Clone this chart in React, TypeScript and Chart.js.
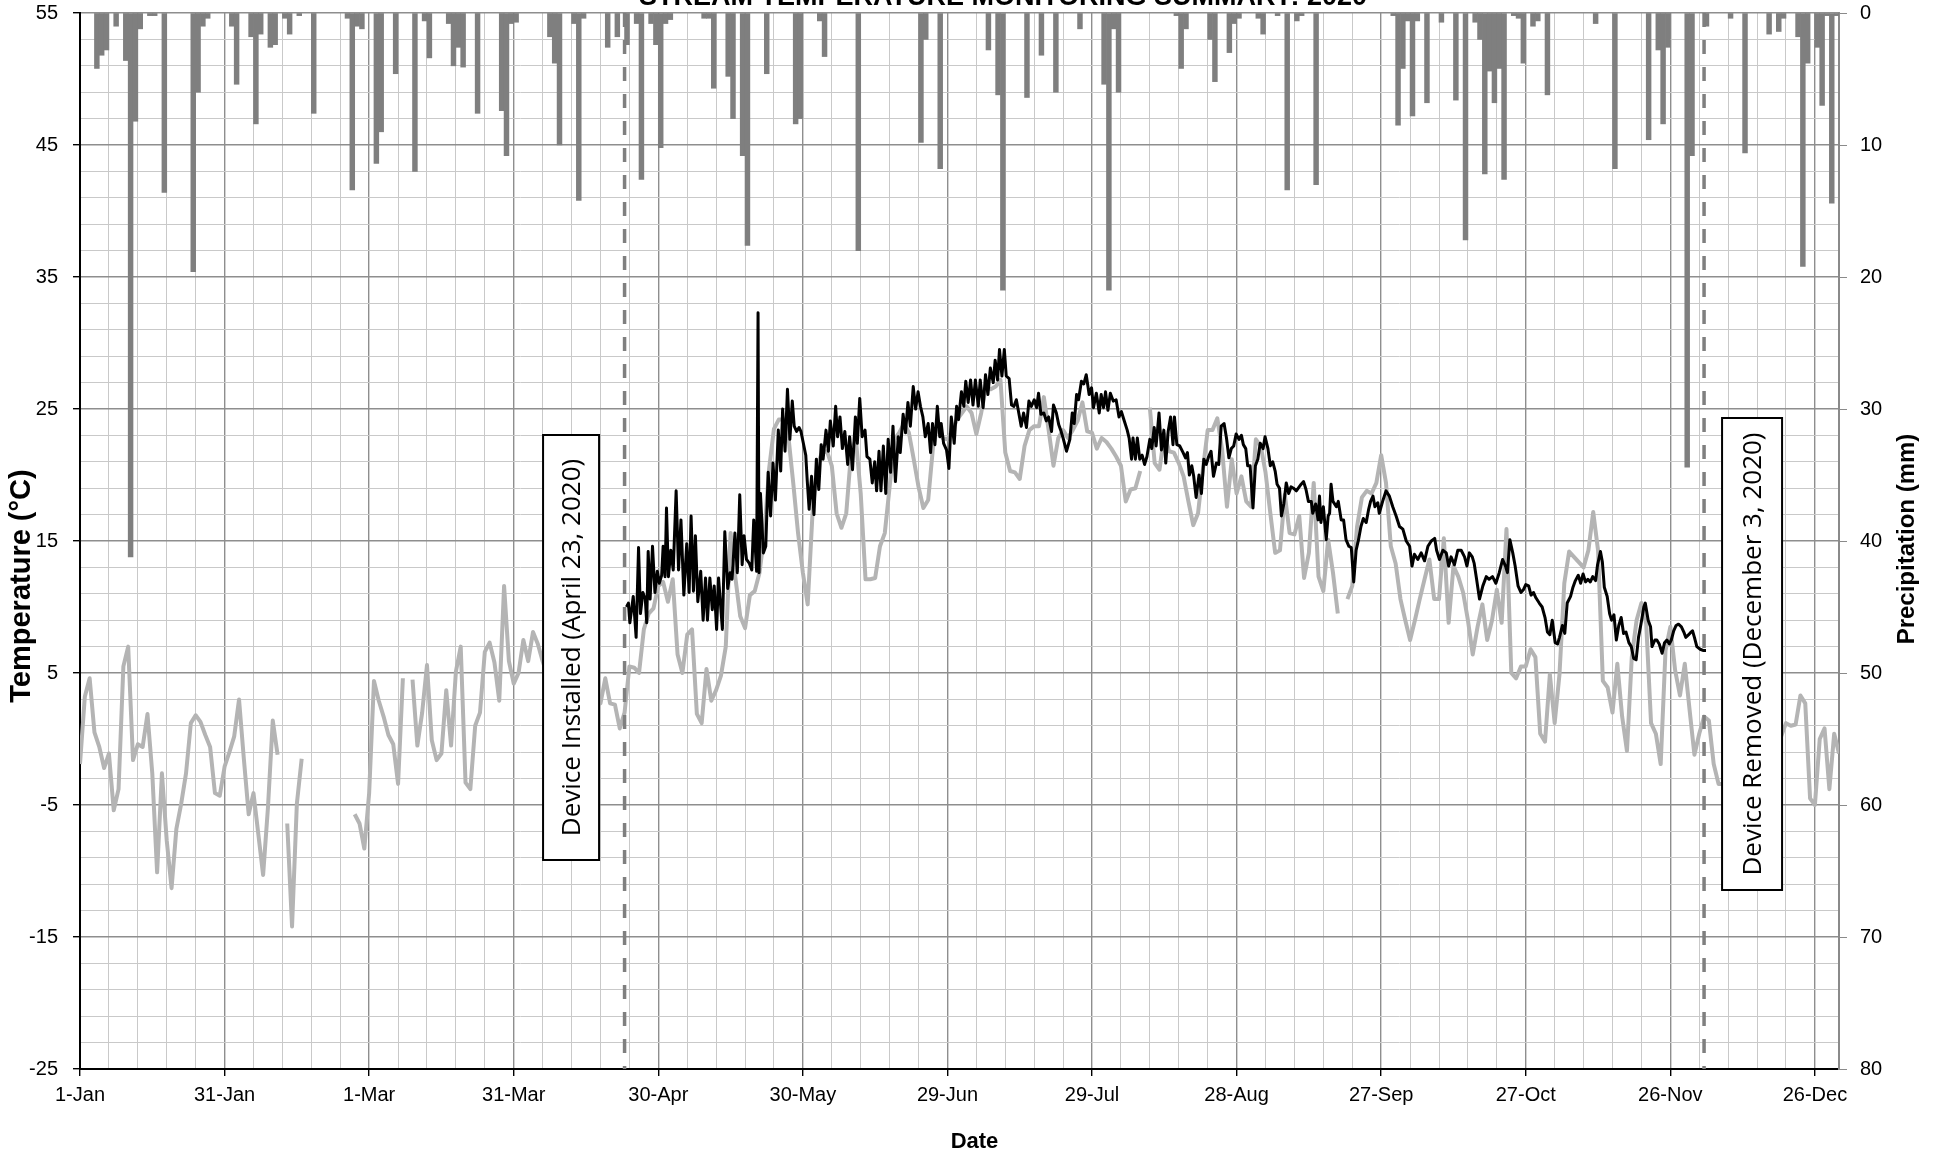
import React, { useEffect, useRef } from 'react';
import { Chart, registerables } from 'chart.js';

Chart.register(...registerables);

// ---- Chart text -----------------------------------------------------------
const TITLE = 'STREAM TEMPERATURE MONITORING SUMMARY: 2020';
const X_TITLE = 'Date';
const Y_TITLE = 'Temperature (\u00B0C)';
const Y2_TITLE = 'Precipitation (mm)';

// x axis runs in days elapsed since 1-Jan-2020 (leap year, 366 days)
const DATE_LABELS = ['1-Jan', '31-Jan', '1-Mar', '31-Mar', '30-Apr', '30-May', '29-Jun', '29-Jul', '28-Aug', '27-Sep', '27-Oct', '26-Nov', '26-Dec'];
const LABEL_STEP_DAYS = 30;
const GRID_STEP_DAYS = 6;

// ---- Daily mean air temperature (°C), one value per day, null = no record ----
const AIR_JAN = [-1.9, 3.2, 4.6, 0.5, -0.6, -2.2, -1.1, -5.4, -3.8, 5.5, 7.0, -1.6, -0.4, -0.6, 1.9, -2.6, -10.1, -2.6, -7.7, -11.3, -6.8, -4.9, -2.6, 1.2, 1.8, 1.3, 0.3, -0.6, -4.1, -4.3, -2.1];
const AIR_FEB = [-1.0, 0.2, 3.0, -1.5, -5.7, -4.1, -7.2, -10.3, -5.2, 1.4, -1.2, null, -6.4, -14.2, -4.9, -1.5, null, null, null, null, null, null, null, null, null, null, -5.7, -6.4, -8.3];
const AIR_MAR = [-4.1, 4.4, 2.9, 1.7, 0.3, -0.4, -3.4, 4.6, null, 4.5, -0.5, 2.0, 5.6, -0.1, -1.6, -1.1, 3.7, -0.5, 5.1, 7.0, -3.3, -3.8, 1.0, 2.0, 6.6, 7.3, 5.8, 2.9, 11.6, 5.9, 4.2];
const AIR_APR = [5.0, 7.5, 5.9, 8.1, 7.2, 5.9, 4.8, 6.9, 3.6, 5.4, 8.2, 6.1, 2.8, 4.9, 7.4, 5.2, 3.1, 2.7, 4.6, 2.7, 2.6, 0.8, 2.0, 5.5, 5.4, 5.0, 8.3, 9.5, 9.9, 11.6];
const AIR_MAY = [11.9, 10.4, 12.1, 6.4, 5.0, 7.9, 8.3, 1.9, 1.2, 5.3, 2.9, 3.7, 4.8, 7.0, 15.6, 12.2, 9.3, 8.4, 10.9, 11.2, 12.6, 15.5, 20.5, 23.5, 24.2, 24.2, 22.9, 19.4, 15.6, 12.6, 10.2];
const AIR_JUN = [17.1, 20.8, 21.7, 21.8, 20.7, 17.1, 16.0, 17.1, 21.7, 22.7, 18.6, 12.1, 12.1, 12.2, 14.6, 15.6, 19.1, 22.7, 23.2, 23.9, 23.2, 21.2, 19.1, 17.5, 18.1, 22.1, 23.9, 22.8, 22.7, 23.4];
const AIR_JUL = [24.2, 24.7, 25.2, 24.7, 23.1, 24.7, 26.7, 26.5, 26.7, 27.2, 21.7, 20.3, 20.2, 19.7, 22.2, 23.4, 23.7, 23.7, 25.9, 23.4, 20.7, 22.8, 23.4, 22.8, 23.4, 24.1, 25.5, 23.3, 23.2, 22.0, 22.8];
const AIR_AUG = [22.5, 22.0, 21.4, 20.7, 18.0, 18.9, 19.0, 20.3, null, 25.1, 20.9, 20.4, 23.1, 21.8, 21.7, 20.9, 19.9, 18.0, 16.2, 17.1, 20.4, 23.4, 23.4, 24.3, 21.9, 17.6, 21.2, 18.6, 19.9, 18.0, 17.6];
const AIR_SEP = [22.7, 22.2, 20.2, 17.1, 14.1, 14.3, 18.5, 15.6, 15.5, 16.9, 12.2, 14.1, 19.4, 12.3, 11.2, 15.1, 12.6, 9.5, null, 10.6, 11.6, 16.1, 18.3, 18.8, 18.6, 19.4, 21.5, 19.4, 14.6, 13.3];
const AIR_OCT = [10.6, 9.0, 7.5, 9.0, 10.6, 12.1, 13.6, 10.6, 10.6, 15.2, 8.8, 13.1, 12.3, 11.1, 9.0, 6.4, 8.5, 10.2, 7.5, 9.0, 11.3, 8.8, 15.9, 5.0, 4.6, 5.5, 5.5, 6.8, 6.2, 0.4, -0.2];
const AIR_NOV = [4.9, 1.2, 4.9, 11.8, 14.2, 13.8, 13.4, 13.0, 14.3, 17.2, 14.3, 4.4, 3.9, 2.0, 5.7, 1.7, -0.9, 6.2, 9.0, 10.3, 8.7, 1.2, 0.4, -1.9, 6.7, 8.5, 5.2, 3.3, 5.7, 2.2];
const AIR_DEC = [-1.2, 0.4, 1.7, 1.4, -1.9, -3.4, -3.4, -2.1, 0.8, -1.5, 2.4, 1.0, -0.8, 3.1, 1.9, -0.6, 0.9, 1.5, 0.2, 1.2, 1.0, 1.1, 3.3, 2.7, -4.5, -5.0, 0.0, 0.8, -3.8, 0.4, -1.1];

// ---- Stream logger record: time (days since 1-Jan) and water temperature (°C) ----
const STREAM_DAY = [
  113.4, 113.8, 114.1, 114.8, 115.4, 115.9, 116.3, 116.8, 117.3, 117.6, 117.9, 118.3, 118.8, 119.3, 119.8, 120.2, 120.7, 121.0, 121.4, 121.7,
  122.1, 122.6, 123.1, 123.7, 124.2, 124.7, 125.3, 125.9, 126.4, 126.8, 127.3, 127.7, 128.2, 128.8, 129.3, 129.8, 130.2, 130.7, 131.2, 131.6,
  132.1, 132.5, 133.3, 133.8, 134.4, 134.9, 135.3, 135.9, 136.4, 136.9, 137.4, 137.8, 138.3, 138.9, 139.4, 139.8, 140.4, 140.7, 140.9, 141.2,
  141.8, 142.3, 142.8, 143.3, 143.8, 144.3, 144.9, 145.4, 145.8, 146.3, 146.8, 147.3, 147.8, 148.2, 148.7, 149.2, 149.6, 150.1, 150.6, 150.9,
  151.3, 151.8, 152.3, 152.8, 153.3, 153.8, 154.2, 154.8, 155.3, 155.7, 156.3, 156.8, 157.2, 157.7, 158.2, 158.7, 159.3, 159.7, 160.3, 160.9,
  161.3, 161.8, 162.3, 162.9, 163.3, 163.9, 164.4, 164.9, 165.3, 165.8, 166.2, 166.7, 167.2, 167.7, 168.2, 168.7, 169.2, 169.8, 170.2, 170.8,
  171.3, 171.8, 172.3, 172.9, 173.4, 173.9, 174.4, 174.9, 175.4, 176.0, 176.5, 176.9, 177.4, 177.9, 178.4, 178.7, 179.2, 179.8, 180.3, 180.8,
  181.4, 181.9, 182.3, 182.9, 183.4, 183.8, 184.3, 184.8, 185.3, 185.8, 186.4, 186.8, 187.4, 187.9, 188.4, 188.9, 189.5, 189.9, 190.4, 190.8,
  191.3, 191.8, 192.2, 192.8, 193.3, 193.8, 194.3, 194.8, 195.3, 195.8, 196.4, 196.9, 197.4, 198.0, 198.5, 198.9, 199.4, 200.0, 200.5, 201.0,
  201.6, 202.0, 202.6, 203.1, 203.5, 204.0, 204.7, 205.4, 205.9, 206.3, 206.8, 207.2, 207.8, 208.3, 208.8, 209.4, 209.9, 210.3, 210.9, 211.5,
  211.9, 212.4, 212.8, 213.3, 213.8, 214.4, 215.0, 215.6, 216.1, 216.6, 217.3, 217.7, 218.2, 218.5, 219.0, 219.4, 219.9, 220.4, 220.9, 221.4,
  222.0, 222.4, 222.9, 223.3, 223.9, 224.4, 224.9, 225.3, 225.8, 226.3, 226.8, 227.1, 227.6, 228.2, 228.9, 229.4, 229.8, 230.2, 230.7, 231.1,
  231.6, 232.2, 232.7, 233.2, 233.7, 234.2, 234.7, 235.2, 235.8, 236.3, 236.8, 237.4, 237.9, 238.4, 238.9, 239.4, 239.9, 240.5, 241.0, 241.4,
  241.9, 242.3, 242.8, 243.4, 243.9, 244.4, 244.9, 245.5, 245.9, 246.5, 247.0, 247.5, 248.0, 248.4, 248.9, 249.3, 249.8, 250.3, 250.8, 251.3,
  251.8, 252.4, 252.8, 253.4, 253.9, 254.4, 254.9, 255.5, 255.8, 256.4, 256.9, 257.2, 257.5, 258.0, 258.6, 259.0, 259.3, 259.6, 260.0, 260.7,
  261.1, 261.7, 262.2, 262.7, 263.3, 263.8, 264.3, 264.8, 265.3, 265.8, 266.3, 266.9, 267.4, 267.8, 268.3, 268.7, 269.3, 269.6, 270.3, 271.0,
  271.7, 272.4, 273.1, 273.8, 274.5, 275.2, 275.9, 276.4, 276.9, 277.6, 278.3, 279.0, 279.7, 280.4, 281.1, 281.5, 282.1, 282.8, 283.5, 284.0,
  284.5, 285.2, 285.9, 286.6, 287.3, 287.8, 288.3, 288.9, 289.3, 289.8, 290.4, 291.1, 291.8, 292.4, 293.1, 293.8, 294.5, 295.2, 295.8, 296.2,
  296.7, 297.3, 297.8, 298.4, 299.0, 299.5, 300.0, 300.6, 301.1, 301.6, 302.1, 302.8, 303.4, 304.0, 304.5, 305.0, 305.5, 306.1, 306.6, 307.0,
  307.6, 308.1, 308.6, 309.3, 309.8, 310.3, 310.9, 311.4, 311.9, 312.4, 312.9, 313.4, 313.9, 314.5, 314.9, 315.5, 315.9, 316.3, 316.9, 317.4,
  317.8, 318.3, 318.8, 319.3, 319.8, 320.3, 320.8, 321.4, 321.9, 322.4, 322.9, 323.4, 323.9, 324.5, 324.8, 325.4, 325.9, 326.2, 326.8, 327.2,
  327.7, 328.3, 328.8, 329.3, 329.8, 330.2, 330.7, 331.2, 331.7, 332.3, 332.8, 333.2, 333.8, 334.3, 334.6, 335.0, 335.5, 336.2, 336.9, 337.4,
];
const STREAM_TEMP = [
  10.0, 10.3, 8.8, 10.8, 7.7, 14.5, 9.5, 11.1, 10.6, 8.8, 14.2, 10.6, 14.6, 11.1, 12.7, 11.8, 12.4, 14.6, 12.3, 17.5,
  12.3, 14.3, 12.8, 18.8, 12.8, 16.6, 10.9, 14.8, 11.1, 16.9, 11.2, 15.4, 10.4, 12.7, 9.0, 12.2, 9.0, 12.2, 9.8, 11.6,
  8.3, 12.2, 8.3, 15.7, 11.4, 12.6, 12.1, 15.6, 12.6, 18.5, 13.2, 15.4, 13.6, 13.3, 12.8, 16.6, 12.7, 32.3, 12.6, 18.6,
  14.1, 14.6, 20.2, 16.9, 20.9, 18.1, 23.4, 20.3, 25.0, 21.8, 26.5, 22.7, 25.6, 23.7, 23.3, 23.6, 23.3, 22.4, 21.5, 19.6,
  17.4, 19.9, 17.0, 21.2, 18.9, 22.3, 21.2, 23.4, 21.8, 24.1, 22.2, 25.2, 22.9, 24.4, 22.0, 23.3, 20.8, 22.9, 20.4, 24.4,
  22.4, 25.8, 22.9, 23.4, 21.4, 21.2, 19.4, 21.0, 18.8, 21.8, 18.8, 22.2, 18.6, 22.7, 20.2, 23.7, 19.5, 22.9, 21.7, 24.6,
  23.2, 25.5, 23.7, 26.7, 25.0, 26.3, 25.2, 24.4, 22.9, 23.9, 21.7, 23.9, 22.3, 25.2, 22.9, 23.9, 22.4, 21.9, 20.5, 24.4,
  22.4, 25.2, 24.2, 26.3, 25.2, 27.1, 25.5, 27.2, 25.3, 27.2, 25.2, 27.2, 25.1, 27.6, 26.1, 28.1, 27.0, 28.7, 27.2, 29.5,
  27.5, 29.5, 27.5, 27.3, 25.3, 25.2, 25.7, 24.7, 23.7, 24.7, 23.6, 25.6, 25.2, 25.7, 25.1, 26.2, 24.6, 24.7, 24.1, 24.4,
  23.3, 25.3, 24.7, 23.8, 23.4, 22.8, 21.8, 22.7, 24.7, 23.9, 26.1, 25.7, 27.1, 26.9, 27.6, 26.1, 26.6, 25.1, 26.2, 24.7,
  26.1, 25.1, 26.3, 24.9, 26.2, 25.6, 25.7, 24.4, 24.8, 24.2, 23.4, 22.8, 21.2, 22.8, 21.2, 22.8, 21.2, 21.5, 20.8, 21.4,
  22.7, 22.0, 23.6, 22.2, 24.7, 21.9, 23.4, 20.9, 23.3, 24.4, 22.3, 24.4, 22.3, 22.2, 21.7, 21.3, 21.7, 20.0, 20.7, 19.9,
  18.3, 20.0, 18.6, 21.2, 20.8, 21.4, 21.8, 19.9, 20.9, 20.8, 23.7, 23.9, 22.8, 21.3, 22.0, 22.2, 23.1, 22.7, 23.0, 22.3,
  22.0, 20.7, 20.7, 17.5, 20.7, 21.2, 22.4, 22.0, 22.9, 22.0, 20.7, 21.0, 20.3, 19.3, 19.0, 16.9, 17.8, 19.4, 18.6, 19.1,
  19.0, 18.8, 19.0, 19.3, 19.5, 18.9, 18.0, 18.0, 17.1, 17.8, 16.6, 18.4, 16.4, 17.6, 15.1, 16.9, 17.1, 19.3, 18.0, 17.6,
  18.0, 16.6, 16.6, 15.1, 14.6, 14.5, 11.9, 14.3, 15.1, 16.1, 16.7, 16.4, 17.4, 18.0, 18.4, 17.6, 17.9, 17.1, 18.0, 18.8,
  18.4, 17.6, 16.9, 16.1, 15.9, 15.0, 14.6, 13.1, 14.0, 13.6, 14.1, 13.5, 14.6, 15.0, 15.2, 14.3, 13.6, 14.3, 14.1, 13.1,
  13.8, 13.2, 14.3, 14.3, 13.8, 13.1, 14.1, 13.8, 13.3, 12.1, 10.6, 11.6, 12.3, 12.1, 12.3, 11.8, 12.6, 13.6, 13.1, 12.6,
  15.1, 14.1, 13.1, 11.6, 11.1, 11.3, 11.7, 11.6, 10.9, 11.1, 10.7, 10.3, 10.0, 9.2, 8.1, 7.9, 9.0, 7.3, 7.2, 7.7,
  8.6, 8.0, 10.3, 10.8, 11.5, 12.0, 12.4, 11.8, 12.5, 11.9, 12.1, 11.9, 12.3, 12.0, 13.2, 14.2, 13.4, 11.5, 10.8, 9.5,
  9.0, 9.4, 7.5, 8.6, 9.2, 8.0, 8.1, 7.3, 7.0, 6.1, 6.0, 7.7, 8.7, 10.0, 10.3, 9.0, 8.5, 7.0, 7.5, 7.5,
  7.2, 6.5, 7.3, 7.5, 7.2, 7.5, 8.2, 8.6, 8.7, 8.5, 8.1, 7.7, 7.9, 8.1, 8.2, 7.7, 7.0, 6.8, 6.7, 6.7,
];

// ---- Daily precipitation (mm): day of year (1 = 1-Jan) and depth ----
const PRECIP_DOY = [
  4, 5, 6, 8, 10, 11, 12, 13, 15, 16, 18, 24, 25, 26, 27,
  32, 33, 36, 37, 38, 40, 41, 43, 44, 46, 49, 56, 57, 58, 59,
  62, 63, 66, 70, 72, 73, 77, 78, 79, 80, 83, 88, 89, 90, 91,
  98, 99, 100, 103, 104, 105, 110, 112, 114, 116, 117, 119, 120, 121,
  122, 123, 130, 131, 132, 135, 136, 138, 139, 143, 149, 150,
  154, 155, 162, 175, 176, 179,
  189, 191, 192, 197, 200, 203, 208, 213,
  214, 215, 216, 228, 229, 230, 235, 236, 239, 240, 241,
  245, 246, 249, 251, 253, 254, 257, 273, 274,
  275, 276, 277, 278, 280, 283, 286, 288, 290, 291, 292, 293, 294, 295, 296, 298, 299, 300, 302, 303, 305,
  315, 319, 326, 328, 329, 330, 334, 335,
  338, 343, 346, 351, 353, 354, 357, 358, 359, 361, 362, 363, 364, 365,
];
const PRECIP_MM = [
  4.2, 3.2, 2.8, 1.0, 3.6, 41.2, 8.2, 1.2, 0.2, 0.2, 13.6, 19.6, 6.0, 1.0, 0.4,
  1.0, 5.4, 1.8, 8.4, 1.6, 2.6, 2.4, 0.4, 1.6, 0.2, 7.6, 0.4, 13.4, 1.0, 1.2,
  11.4, 9.0, 4.6, 12.0, 0.6, 3.4, 0.8, 4.0, 2.6, 4.1, 7.6, 7.4, 10.8, 0.8, 0.7,
  1.8, 3.8, 10.0, 0.8, 14.2, 0.4, 2.6, 1.8, 2.4, 0.8, 12.6, 0.8, 2.4, 10.2,
  0.8, 0.5, 0.4, 0.4, 5.7, 4.8, 8.0, 10.8, 17.6, 4.6, 8.4, 8.0,
  0.6, 3.3, 18.0, 9.8, 2.0, 11.8,
  2.8, 6.2, 21.0, 6.4, 3.2, 6.0, 1.2, 5.4,
  21.0, 1.2, 6.0, 0.2, 4.2, 1.2, 2.0, 5.2, 3.0, 0.8, 0.4,
  0.4, 1.6, 0.2, 13.4, 0.6, 0.2, 13.0, 0.2, 8.5,
  4.2, 0.6, 7.8, 0.6, 6.8, 0.7, 6.6, 17.2, 0.7, 2.0, 12.2, 4.4, 6.8, 4.2, 12.6, 0.2, 0.4, 3.8, 1.0, 0.6, 6.2,
  0.8, 11.8, 9.6, 2.8, 8.4, 2.6, 34.4, 10.8,
  1.0, 0.4, 10.6, 1.6, 1.4, 0.4, 1.8, 19.2, 3.8, 2.6, 7.0, 0.2, 14.4, 0.2,
];

// ---- Logger deployment (days since 1-Jan) ----
const INSTALL_DAY = 113; // 23-Apr-2020
const REMOVE_DAY = 337; // 3-Dec-2020
const INSTALL_TEXT = 'Device Installed (April 23, 2020)';
const REMOVE_TEXT = 'Device Removed (December 3, 2020)';

const AIR_TEMP = [
  ...AIR_JAN, ...AIR_FEB, ...AIR_MAR, ...AIR_APR, ...AIR_MAY, ...AIR_JUN,
  ...AIR_JUL, ...AIR_AUG, ...AIR_SEP, ...AIR_OCT, ...AIR_NOV, ...AIR_DEC,
];

const SANS = '"Liberation Sans", Arial, Helvetica, sans-serif';
const NOTE_FONT = '"Open Sans", "Noto Sans", sans-serif';
const MAJOR_GRID = '#8e8e8e';
const MINOR_GRID = '#c9c9c9';

// note boxes, placed beside the deployment lines (px, relative to plot top)
const NOTE_LAYOUT = [
  { day: INSTALL_DAY, text: INSTALL_TEXT, dx: -25.5, width: 56, top: 422, bottom: 847 },
  { day: REMOVE_DAY, text: REMOVE_TEXT, dx: 18, width: 60, top: 405, bottom: 877 },
];

// keep the plot frame fixed: drop the label overflow padding Chart.js adds
const noEdgePadding = (s: any) => {
  s.paddingTop = 0;
  s.paddingBottom = 0;
  s.paddingLeft = 0;
  s.paddingRight = 0;
};

const overlayPlugin = {
  id: 'overlay',
  afterDatasetsDraw(chart: any) {
    const { ctx, chartArea, scales } = chart;
    const xs = scales.x;
    ctx.save();
    // deployment lines
    ctx.strokeStyle = '#7f7f7f';
    ctx.lineWidth = 3.5;
    ctx.setLineDash([14, 13]);
    [INSTALL_DAY, REMOVE_DAY].forEach((d) => {
      const px = xs.getPixelForValue(d);
      ctx.beginPath();
      ctx.moveTo(px, chartArea.top);
      ctx.lineTo(px, chartArea.bottom);
      ctx.stroke();
    });
    ctx.setLineDash([]);

    // note boxes with rotated text
    NOTE_LAYOUT.forEach((n) => {
      const lx = xs.getPixelForValue(n.day);
      const left = n.dx < 0 ? lx + n.dx - n.width : lx + n.dx;
      const top = chartArea.top + n.top;
      const h = n.bottom - n.top;
      ctx.fillStyle = '#ffffff';
      ctx.fillRect(left, top, n.width, h);
      ctx.strokeStyle = '#000000';
      ctx.lineWidth = 2;
      ctx.strokeRect(left, top, n.width, h);
      ctx.save();
      ctx.translate(left + n.width / 2, top + h / 2);
      ctx.rotate(-Math.PI / 2);
      ctx.fillStyle = '#000000';
      ctx.font = `26px ${NOTE_FONT}`;
      ctx.textAlign = 'center';
      ctx.textBaseline = 'middle';
      ctx.fillText(n.text, 0, 2);
      ctx.restore();
    });
    ctx.restore();
  },
  afterDraw(chart: any) {
    const { ctx, chartArea } = chart;
    ctx.save();
    ctx.fillStyle = '#000000';
    ctx.textAlign = 'center';

    ctx.font = `bold 27px ${SANS}`;
    ctx.textBaseline = 'alphabetic';
    ctx.fillText(TITLE, 1003, 5);

    ctx.font = `bold 22px ${SANS}`;
    ctx.fillText(X_TITLE, (chartArea.left + chartArea.right) / 2 + 15, 1148);

    ctx.textBaseline = 'middle';
    ctx.font = `bold 29px ${SANS}`;
    ctx.save();
    ctx.translate(22, 586);
    ctx.rotate(-Math.PI / 2);
    ctx.fillText(Y_TITLE, 0, 0);
    ctx.restore();

    ctx.font = `bold 24px ${SANS}`;
    ctx.save();
    ctx.translate(1907, 539);
    ctx.rotate(-Math.PI / 2);
    ctx.fillText(Y2_TITLE, 0, 0);
    ctx.restore();
    ctx.restore();
  },
};

export default function App() {
  const canvasRef = useRef<HTMLCanvasElement | null>(null);

  useEffect(() => {
    if (!canvasRef.current) return;

    const airPoints = AIR_TEMP.map((v, i) => ({ x: i, y: v }));
    const streamPoints = STREAM_DAY.map((d, i) => ({ x: d, y: STREAM_TEMP[i] }));
    const precipPoints = PRECIP_DOY.map((d, i) => ({ x: d - 0.5, y: PRECIP_MM[i] }));

    const isMajorTemp = (v: number) => Math.round(v + 25) % 10 === 0;
    const isMajorDay = (v: number) => Math.round(v) % LABEL_STEP_DAYS === 0;

    const chart = new Chart(canvasRef.current, {
      type: 'line',
      data: {
        datasets: [
          {
            type: 'line',
            label: 'Stream temperature',
            data: streamPoints,
            xAxisID: 'x',
            yAxisID: 'y',
            borderColor: '#000000',
            borderWidth: 3,
            pointRadius: 0,
            tension: 0,
            borderJoinStyle: 'round',
            order: 1,
          },
          {
            type: 'line',
            label: 'Air temperature',
            data: airPoints,
            xAxisID: 'x',
            yAxisID: 'y',
            borderColor: '#b4b4b4',
            borderWidth: 4,
            pointRadius: 0,
            tension: 0,
            spanGaps: false,
            borderJoinStyle: 'round',
            order: 2,
          },
          {
            type: 'bar',
            label: 'Precipitation',
            data: precipPoints,
            xAxisID: 'x',
            yAxisID: 'y2',
            backgroundColor: '#7f7f7f',
            borderWidth: 0,
            barPercentage: 1,
            categoryPercentage: 1,
            order: 3,
          },
        ] as any,
      },
      options: {
        responsive: false,
        devicePixelRatio: 1,
        animation: false,
        events: [],
        layout: { padding: { top: 13, left: 0, right: 0, bottom: 0 } },
        plugins: {
          legend: { display: false },
          title: { display: false },
          tooltip: { enabled: false },
        },
        scales: {
          x: {
            type: 'linear',
            position: 'bottom',
            min: 0,
            max: 365,
            offset: false,
            afterFit: (s: any) => { s.height = 85; noEdgePadding(s); },
            afterBuildTicks: (s: any) => {
              const t = [];
              for (let v = 0; v <= 360; v += GRID_STEP_DAYS) t.push({ value: v });
              s.ticks = t;
            },
            border: { display: true, color: '#000000', width: 2 },
            grid: {
              offset: false,
              color: (c: any) => (c.tick && isMajorDay(c.tick.value) ? MAJOR_GRID : MINOR_GRID),
              lineWidth: (c: any) => (c.tick && isMajorDay(c.tick.value) ? 1.4 : 1),
              tickColor: (c: any) => (c.tick && isMajorDay(c.tick.value) ? '#000000' : 'rgba(0,0,0,0)'),
              tickLength: 7,
            },
            ticks: {
              autoSkip: false,
              maxRotation: 0,
              padding: 7,
              color: '#000000',
              font: { family: SANS, size: 20 },
              callback: (v: any) => (isMajorDay(v) ? DATE_LABELS[Math.round(v) / LABEL_STEP_DAYS] ?? '' : ''),
            },
          },
          y: {
            type: 'linear',
            position: 'left',
            min: -25,
            max: 55,
            afterFit: (s: any) => { s.width = 80; noEdgePadding(s); },
            afterBuildTicks: (s: any) => {
              const t = [];
              for (let v = -25; v <= 55; v += 2) t.push({ value: v });
              s.ticks = t;
            },
            border: { display: true, color: '#000000', width: 2 },
            grid: {
              color: (c: any) => (c.tick && isMajorTemp(c.tick.value) ? MAJOR_GRID : MINOR_GRID),
              lineWidth: (c: any) => (c.tick && isMajorTemp(c.tick.value) ? 1.4 : 1),
              tickColor: (c: any) => (c.tick && isMajorTemp(c.tick.value) ? '#000000' : 'rgba(0,0,0,0)'),
              tickLength: 7,
            },
            ticks: {
              autoSkip: false,
              padding: 15,
              color: '#000000',
              font: { family: SANS, size: 20 },
              callback: (v: any) => (isMajorTemp(v) ? String(v) : ''),
            },
          },
          y2: {
            type: 'linear',
            position: 'right',
            min: 0,
            max: 80,
            reverse: true,
            afterFit: (s: any) => { s.width = 105; noEdgePadding(s); },
            border: { display: true, color: '#8a8a8a', width: 2 },
            grid: { drawOnChartArea: false, color: '#8a8a8a', tickLength: 8 },
            ticks: {
              stepSize: 10,
              padding: 13,
              color: '#000000',
              font: { family: SANS, size: 20 },
            },
          },
        },
      } as any,
      plugins: [overlayPlugin],
    });

    return () => chart.destroy();
  }, []);

  return (
    <div style={{ position: 'absolute', left: 0, top: 0, width: 1944, height: 1154, background: '#ffffff' }}>
      <canvas ref={canvasRef} width={1944} height={1154} style={{ display: 'block' }} />
    </div>
  );
}
